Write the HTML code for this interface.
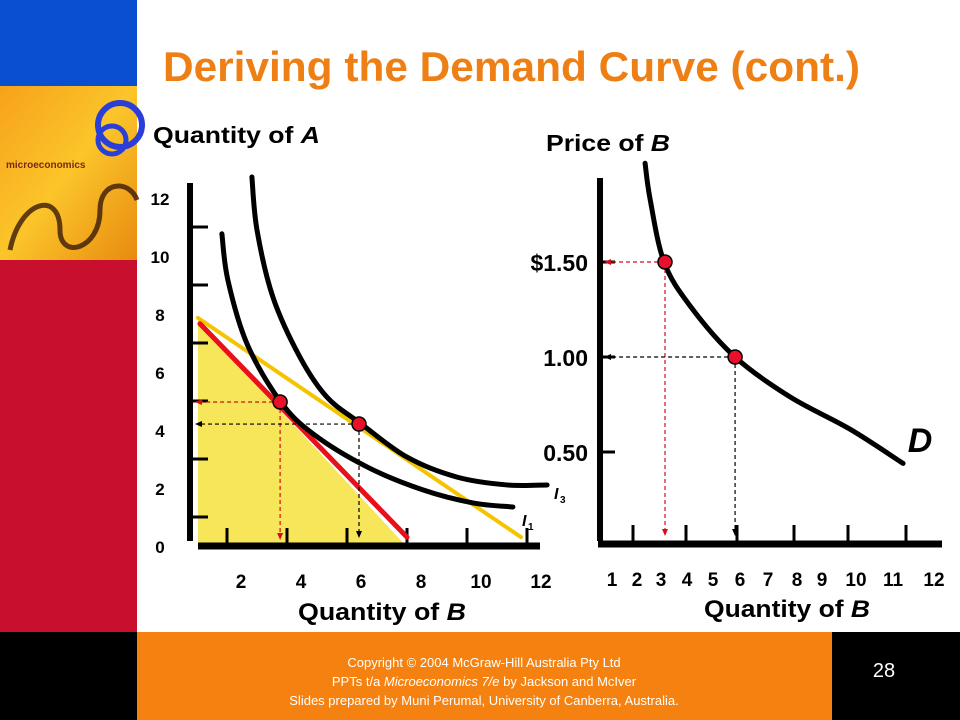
<!DOCTYPE html>
<html><head><meta charset="utf-8">
<style>
html,body{margin:0;padding:0;background:#fff;}
body{width:960px;height:720px;position:relative;overflow:hidden;font-family:"Liberation Sans",Arial,sans-serif;}
svg{position:absolute;left:0;top:0;}
</style></head>
<body>
<svg width="960" height="720" viewBox="0 0 960 720">
  <defs>
    <linearGradient id="cov" x1="0" y1="0" x2="1" y2="1">
      <stop offset="0" stop-color="#f7a21a"/><stop offset="0.5" stop-color="#fbc52a"/><stop offset="1" stop-color="#e88a10"/>
    </linearGradient>
  </defs>
  <rect x="0" y="0" width="137" height="86" fill="#0a4fcf"/>
  <g>
    <rect x="0" y="86" width="137" height="174" fill="url(#cov)"/>
    <circle cx="120" cy="125" r="22" fill="none" stroke="#2a3ed8" stroke-width="6"/>
    <circle cx="112" cy="140" r="14" fill="none" stroke="#2a3ed8" stroke-width="5"/>
    <path d="M10 250 C20 200 60 190 60 230 C60 260 100 250 100 210 C100 180 130 180 137 200" fill="none" stroke="#3a1a08" stroke-width="5" opacity="0.8"/>
    <text x="6" y="168" font-size="10" font-weight="bold" fill="#7a2a10" font-family="Liberation Sans, sans-serif">microeconomics</text>
  </g>
  <rect x="0" y="260" width="137" height="372" fill="#c8102e"/>
  <text x="163" y="81" font-size="42" font-weight="bold" fill="#ee7f14" textLength="697" lengthAdjust="spacingAndGlyphs">Deriving the Demand Curve (cont.)</text>

  <g id="left"></g>
  <g id="right"></g>

  <g>
    <rect x="0" y="632" width="137" height="88" fill="#000"/>
    <rect x="137" y="632" width="695" height="88" fill="#f58210"/>
    <rect x="832" y="632" width="128" height="88" fill="#000"/>
    <text x="484" y="667" font-size="13" fill="#fff" text-anchor="middle">Copyright © 2004 McGraw-Hill Australia Pty Ltd</text>
    <text x="484" y="686" font-size="13" fill="#fff" text-anchor="middle">PPTs t/a <tspan font-style="italic">Microeconomics 7/e</tspan> by Jackson and McIver</text>
    <text x="484" y="705" font-size="13" fill="#fff" text-anchor="middle">Slides prepared by Muni Perumal, University of Canberra, Australia.</text>
    <text x="884" y="677" font-size="20" fill="#fff" text-anchor="middle">28</text>
  </g>
</svg>
<script>
// Left chart data (quantity of B, quantity of A)
const yTicksA = [0,2,4,6,8,10,12];
const xTicksB = [2,4,6,8,10,12];
const budgetYellow = [[0.53,7.9],[11.3,0.34]];
const budgetRed = [[0.6,7.7],[7.5,0.34]];
const curveI1 = [[1.33,10.8],[1.53,9.2],[2.17,7.0],[3.27,5.03],[4.37,3.9],[6.17,2.76],[8.03,1.97],[9.7,1.52],[11.03,1.38]];
const curveI3 = [[2.33,12.76],[2.5,10.93],[3.03,8.62],[3.93,6.55],[4.83,5.17],[5.93,4.28],[7.5,3.1],[9.17,2.41],[10.83,2.14],[12.17,2.14]];
const optRed = [3.27,5.0];
const optBlack = [5.9,4.24];
// Right chart data (quantity of B, price)
const xTicksD = [1,2,3,4,5,6,7,8,9,10,11,12];
const priceTicks = [0.5,1.0,1.5];
const priceLabels = ["0.50","1.00","$1.50"];
const demand = [[2.17,2.02],[2.38,1.83],[2.96,1.5],[4.04,1.27],[5.92,1.0],[8.21,0.79],[10.71,0.62],[12.92,0.44]];
const demandPts = [[3,1.5],[5.92,1.0]];

const NS="http://www.w3.org/2000/svg";
function mk(parent,tag,attrs){const e=document.createElementNS(NS,tag);for(const k in attrs)e.setAttribute(k,attrs[k]);parent.appendChild(e);return e;}
function txt(parent,x,y,s,attrs){const t=mk(parent,'text',Object.assign({x:x,y:y,'font-size':18,'font-weight':'bold','text-anchor':'middle',fill:'#000'},attrs||{}));t.textContent=s;return t;}

const lx=q=>182+30*q, ly=a=>547-29*a;
const L=document.getElementById('left');
let shade=mk(L,'polygon',{points:`${lx(0.53)},${ly(budgetYellow[0][1])} ${lx(0.53)},${ly(0)} ${lx(7.5)},${ly(0)} ${lx(budgetRed[0][0])},${ly(budgetRed[0][1])}`,fill:'#f7e65a'});


let yax=mk(L,'line',{x1:190,y1:183,x2:190,y2:541,stroke:'#000','stroke-width':6});


let xax=mk(L,'line',{x1:198,y1:546,x2:540,y2:546,stroke:'#000','stroke-width':7});


yTicksA.forEach(v=>{let t=txt(L,160,ly(v)+6,String(v),{'font-size':17});


if(v<12){let m=mk(L,'line',{x1:193,y1:ly(v+1)-1,x2:208,y2:ly(v+1)-1,stroke:'#000','stroke-width':3});

}});
xTicksB.forEach(v=>{let t=txt(L,lx(v)-1,588,String(v),{'font-size':19});


let m=mk(L,'line',{x1:lx(v-1)+15,y1:528,x2:lx(v-1)+15,y2:543,stroke:'#000','stroke-width':3});

});
function poly(g,arr,sx,sy,stroke,w,name){
let pts=arr.map(p=>[sx(p[0]),sy(p[1])]);let s=`M${pts[0][0]},${pts[0][1]}`;
for(let i=0;i<pts.length-1;i++){const p0=pts[Math.max(0,i-1)],p1=pts[i],p2=pts[i+1],p3=pts[Math.min(pts.length-1,i+2)];
s+=` C${p1[0]+(p2[0]-p0[0])/6},${p1[1]+(p2[1]-p0[1])/6} ${p2[0]-(p3[0]-p1[0])/6},${p2[1]-(p3[1]-p1[1])/6} ${p2[0]},${p2[1]}`;}
const e=mk(g,'path',{d:s,fill:'none',stroke:stroke,'stroke-width':w,'stroke-linecap':'round'});

return e;}
poly(L,budgetYellow,lx,ly,'#f5c400',4,'budget-line-yellow');
poly(L,budgetRed,lx,ly,'#e8101a',5,'budget-line-red');
poly(L,curveI1,lx,ly,'#000',5,'indifference-curve-i1');
poly(L,curveI3,lx,ly,'#000',5,'indifference-curve-i3');
function dashes(g,x,y,x0,y0,col,name){
 let h=mk(g,'line',{x1:x,y1:y,x2:x0+6,y2:y,stroke:col,'stroke-width':1.2,'stroke-dasharray':'4,3'});
 
 
 mk(g,'polygon',{points:`${x0},${y} ${x0+7},${y-3} ${x0+7},${y+3}`,fill:col});
 let v=mk(g,'line',{x1:x,y1:y,x2:x,y2:y0-6,stroke:col,'stroke-width':1.2,'stroke-dasharray':'4,3'});
 
 
 mk(g,'polygon',{points:`${x},${y0} ${x-3},${y0-7} ${x+3},${y0-7}`,fill:col});}
dashes(L,lx(optRed[0]),ly(optRed[1]),195,540,'#d0101a','guide-red');
dashes(L,lx(optBlack[0]),ly(optBlack[1]),195,538,'#000','guide-black');
[[optRed,'optimum-red'],[optBlack,'optimum-black']].forEach(([p,n])=>{let c=mk(L,'circle',{cx:lx(p[0]),cy:ly(p[1]),r:7,fill:'#e8102a',stroke:'#000','stroke-width':1.5});

});
let l1=txt(L,522,526,'I',{'font-size':16,'font-style':'italic','text-anchor':'start'});mk(L,'text',{x:528,y:530,'font-size':10,'font-weight':'bold'}).textContent='1';


let l3=txt(L,554,499,'I',{'font-size':16,'font-style':'italic','text-anchor':'start'});mk(L,'text',{x:560,y:503,'font-size':10,'font-weight':'bold'}).textContent='3';


let ya=txt(L,153,143,'',{'text-anchor':'start','font-size':23,textLength:167,lengthAdjust:'spacingAndGlyphs'});ya.innerHTML='Quantity of <tspan font-style="italic">A</tspan>';


let xa=txt(L,298,620,'',{'text-anchor':'start','font-size':24,textLength:168,lengthAdjust:'spacingAndGlyphs'});xa.innerHTML='Quantity of <tspan font-style="italic">B</tspan>';



const rx=q=>593+24*q, ry=p=>547-190*p;
const R=document.getElementById('right');
let ry1=mk(R,'line',{x1:600,y1:178,x2:600,y2:541,stroke:'#000','stroke-width':6});


let rx1=mk(R,'line',{x1:598,y1:544,x2:942,y2:544,stroke:'#000','stroke-width':7});


priceTicks.forEach((p,i)=>{let t=txt(R,588,ry(p)+9,priceLabels[i],{'font-size':23,'text-anchor':'end'});


let m=mk(R,'line',{x1:603,y1:ry(p),x2:615,y2:ry(p),stroke:'#000','stroke-width':3});

});
const labelX=[612,637,661,687,713,740,768,797,822,856,893,934];
xTicksD.forEach((v,i)=>{let t=txt(R,labelX[i],586,String(v),{'font-size':19});

});
[633,686,737,794,848,906].forEach(x=>{let m=mk(R,'line',{x1:x,y1:525,x2:x,y2:541,stroke:'#000','stroke-width':3});

});
poly(R,demand,rx,ry,'#000',5,'demand-curve');
dashes(R,rx(demandPts[0][0]),ry(demandPts[0][1]),604,536,'#d0101a','demand-guide-red');
dashes(R,rx(demandPts[1][0]),ry(demandPts[1][1]),604,536,'#000','demand-guide-black');
demandPts.forEach((p,i)=>{let c=mk(R,'circle',{cx:rx(p[0]),cy:ry(p[1]),r:7,fill:'#e8102a',stroke:'#000','stroke-width':1.5});

});
let dl=txt(R,920,452,'D',{'font-size':34,'font-style':'italic'});


let pt=txt(R,546,151,'',{'text-anchor':'start','font-size':23,textLength:124,lengthAdjust:'spacingAndGlyphs'});pt.innerHTML='Price of <tspan font-style="italic">B</tspan>';


let qb=txt(R,704,617,'',{'text-anchor':'start','font-size':24,textLength:166,lengthAdjust:'spacingAndGlyphs'});qb.innerHTML='Quantity of <tspan font-style="italic">B</tspan>';


</script>
</body></html>
